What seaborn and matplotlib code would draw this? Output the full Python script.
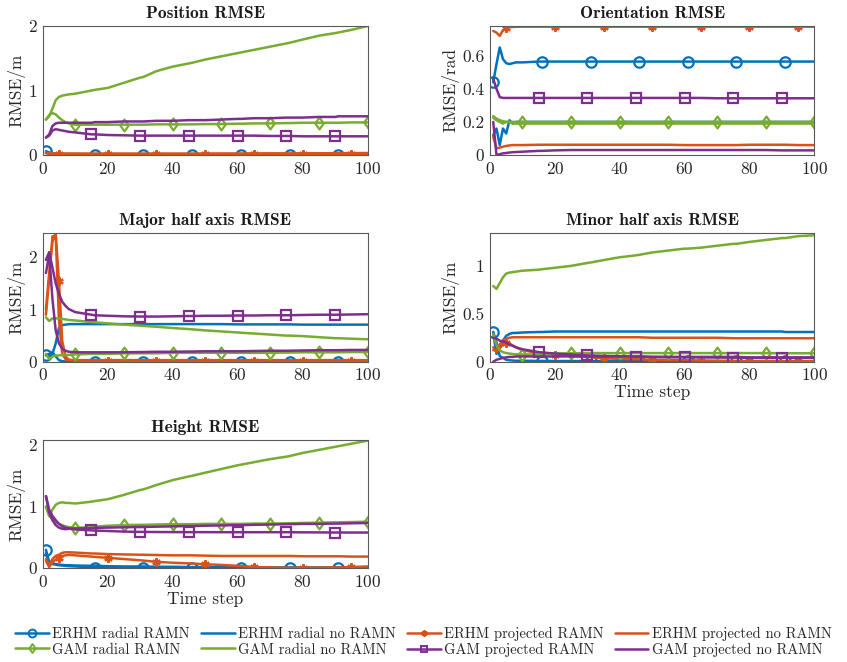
import numpy as np
import matplotlib
matplotlib.use("Agg")
import matplotlib.pyplot as plt
from matplotlib.lines import Line2D
from matplotlib.path import Path
from matplotlib.ticker import FormatStrFormatter
import seaborn as sns

sns.set_theme(style="white")
plt.rcParams['font.family'] = ['cmr10', 'DejaVu Serif']
plt.rcParams['mathtext.fontset'] = 'cm'
plt.rcParams['axes.unicode_minus'] = False
plt.rcParams['axes.formatter.use_mathtext'] = True

# ---------------- data ----------------
steps = [1, 2, 3, 4, 5, 6, 7, 8, 10, 15, 16, 20, 25, 30, 31, 35, 40, 45, 46, 50,
         55, 60, 61, 65, 70, 75, 76, 80, 85, 90, 91, 95, 100]

series_names = ["ERHM radial RAMN", "ERHM radial no RAMN", "ERHM projected RAMN",
                "ERHM projected no RAMN", "GAM radial RAMN", "GAM radial no RAMN",
                "GAM projected RAMN", "GAM projected no RAMN"]

panel_titles = ["Position RMSE", "Orientation RMSE", "Major half axis RMSE",
                "Minor half axis RMSE", "Height RMSE"]
panel_ylabels = ["RMSE/m", "RMSE/rad", "RMSE/m", "RMSE/m", "RMSE/m"]

# Position RMSE
pos_erhm_rad_ramn = [0.06, 0.04, 0.03, 0.02, 0.015, 0.01, 0.01, 0.008, 0.006, 0.005, 0.005, 0.004, 0.004, 0.004, 0.004, 0.004, 0.004, 0.004, 0.004, 0.004, 0.005, 0.005, 0.005, 0.005, 0.005, 0.005, 0.005, 0.005, 0.005, 0.005, 0.005, 0.005, 0.005]
pos_erhm_rad_no = [0.03, 0.02, 0.015, 0.012, 0.01, 0.01, 0.01, 0.01, 0.01, 0.01, 0.01, 0.01, 0.01, 0.01, 0.01, 0.01, 0.01, 0.01, 0.01, 0.01, 0.01, 0.01, 0.01, 0.01, 0.01, 0.01, 0.01, 0.01, 0.01, 0.01, 0.01, 0.01, 0.01]
pos_erhm_proj_ramn = [0.04, 0.03, 0.025, 0.02, 0.02, 0.02, 0.02, 0.02, 0.02, 0.018, 0.018, 0.018, 0.018, 0.018, 0.018, 0.018, 0.018, 0.018, 0.018, 0.018, 0.018, 0.018, 0.018, 0.018, 0.018, 0.018, 0.018, 0.018, 0.018, 0.018, 0.018, 0.018, 0.018]
pos_erhm_proj_no = [0.03, 0.025, 0.02, 0.02, 0.02, 0.02, 0.02, 0.02, 0.02, 0.02, 0.02, 0.02, 0.02, 0.02, 0.02, 0.02, 0.02, 0.02, 0.02, 0.02, 0.022, 0.022, 0.022, 0.024, 0.025, 0.025, 0.025, 0.026, 0.027, 0.028, 0.028, 0.029, 0.03]
pos_gam_rad_ramn = [0.55, 0.62, 0.65, 0.63, 0.58, 0.54, 0.51, 0.49, 0.47, 0.47, 0.47, 0.47, 0.47, 0.47, 0.47, 0.475, 0.475, 0.475, 0.475, 0.48, 0.48, 0.485, 0.485, 0.49, 0.49, 0.495, 0.495, 0.5, 0.5, 0.5, 0.5, 0.505, 0.505]
pos_gam_rad_no = [0.55, 0.6, 0.72, 0.85, 0.9, 0.92, 0.93, 0.94, 0.95, 1.0, 1.01, 1.04, 1.12, 1.2, 1.21, 1.3, 1.37, 1.42, 1.43, 1.48, 1.53, 1.58, 1.59, 1.63, 1.68, 1.73, 1.74, 1.79, 1.85, 1.89, 1.9, 1.94, 2.0]
pos_gam_proj_ramn = [0.27, 0.3, 0.38, 0.4, 0.39, 0.38, 0.37, 0.36, 0.35, 0.32, 0.32, 0.31, 0.305, 0.3, 0.3, 0.3, 0.3, 0.3, 0.3, 0.3, 0.3, 0.3, 0.3, 0.3, 0.295, 0.295, 0.295, 0.29, 0.29, 0.29, 0.29, 0.29, 0.29]
pos_gam_proj_no = [0.27, 0.32, 0.45, 0.49, 0.5, 0.5, 0.5, 0.5, 0.5, 0.5, 0.51, 0.51, 0.52, 0.52, 0.52, 0.53, 0.53, 0.54, 0.54, 0.54, 0.55, 0.56, 0.56, 0.57, 0.57, 0.58, 0.58, 0.58, 0.59, 0.59, 0.6, 0.6, 0.6]

# Orientation RMSE
ori_erhm_rad_ramn = [0.44, 0.55, 0.65, 0.58, 0.555, 0.55, 0.555, 0.56, 0.56, 0.565, 0.565, 0.565, 0.565, 0.565, 0.565, 0.565, 0.565, 0.565, 0.565, 0.565, 0.565, 0.565, 0.565, 0.565, 0.565, 0.565, 0.565, 0.565, 0.565, 0.565, 0.565, 0.565, 0.565]
ori_erhm_rad_no = [0.12, 0.16, 0.06, 0.16, 0.13, 0.21, 0.19, 0.2, 0.2, 0.2, 0.2, 0.2, 0.2, 0.2, 0.2, 0.2, 0.2, 0.2, 0.2, 0.2, 0.2, 0.2, 0.2, 0.2, 0.2, 0.2, 0.2, 0.2, 0.2, 0.2, 0.2, 0.2, 0.2]
ori_erhm_proj_ramn = [0.75, 0.74, 0.72, 0.755, 0.768, 0.772, 0.774, 0.775, 0.776, 0.776, 0.776, 0.776, 0.776, 0.776, 0.776, 0.776, 0.776, 0.776, 0.776, 0.776, 0.776, 0.776, 0.776, 0.776, 0.776, 0.776, 0.776, 0.776, 0.776, 0.776, 0.776, 0.776, 0.776]
ori_erhm_proj_no = [0.11, 0.04, 0.045, 0.05, 0.055, 0.058, 0.06, 0.06, 0.06, 0.062, 0.062, 0.062, 0.062, 0.062, 0.062, 0.062, 0.062, 0.062, 0.062, 0.062, 0.062, 0.06, 0.06, 0.06, 0.06, 0.06, 0.06, 0.062, 0.062, 0.062, 0.062, 0.06, 0.06]
ori_gam_rad_ramn = [0.235, 0.22, 0.21, 0.205, 0.2, 0.2, 0.2, 0.2, 0.2, 0.2, 0.2, 0.2, 0.2, 0.2, 0.2, 0.2, 0.2, 0.2, 0.2, 0.2, 0.2, 0.2, 0.2, 0.2, 0.2, 0.2, 0.2, 0.2, 0.2, 0.2, 0.2, 0.2, 0.2]
ori_gam_rad_no = [0.225, 0.21, 0.2, 0.19, 0.2, 0.2, 0.19, 0.19, 0.19, 0.19, 0.19, 0.19, 0.19, 0.19, 0.19, 0.19, 0.19, 0.19, 0.19, 0.19, 0.19, 0.19, 0.19, 0.19, 0.19, 0.19, 0.19, 0.19, 0.19, 0.19, 0.19, 0.19, 0.19]
ori_gam_proj_ramn = [0.46, 0.4, 0.35, 0.345, 0.345, 0.345, 0.345, 0.345, 0.345, 0.345, 0.345, 0.345, 0.345, 0.345, 0.345, 0.345, 0.345, 0.345, 0.345, 0.345, 0.345, 0.345, 0.345, 0.345, 0.343, 0.343, 0.343, 0.343, 0.343, 0.343, 0.343, 0.343, 0.343]
ori_gam_proj_no = [0.2, 0.0, 0.005, 0.01, 0.012, 0.015, 0.017, 0.018, 0.02, 0.025, 0.025, 0.028, 0.03, 0.03, 0.03, 0.03, 0.03, 0.03, 0.03, 0.03, 0.03, 0.03, 0.03, 0.03, 0.03, 0.03, 0.03, 0.03, 0.03, 0.028, 0.028, 0.028, 0.028]

# Major half axis RMSE
maj_erhm_rad_ramn = [0.13, 0.15, 0.18, 0.1, 0.03, 0.01, 0.005, 0.005, 0.003, 0.002, 0.002, 0.002, 0.002, 0.002, 0.002, 0.002, 0.002, 0.002, 0.002, 0.002, 0.002, 0.002, 0.002, 0.002, 0.002, 0.002, 0.002, 0.002, 0.002, 0.002, 0.002, 0.002, 0.002]
maj_erhm_rad_no = [0.12, 0.1, 0.15, 0.35, 0.65, 0.7, 0.71, 0.72, 0.72, 0.72, 0.72, 0.72, 0.72, 0.72, 0.72, 0.72, 0.72, 0.72, 0.72, 0.72, 0.72, 0.715, 0.715, 0.715, 0.715, 0.715, 0.715, 0.71, 0.71, 0.71, 0.71, 0.71, 0.71]
maj_erhm_proj_ramn = [1.0, 1.7, 2.3, 2.45, 1.55, 0.4, 0.1, 0.04, 0.02, 0.01, 0.01, 0.01, 0.01, 0.01, 0.01, 0.01, 0.01, 0.01, 0.01, 0.01, 0.01, 0.01, 0.01, 0.01, 0.01, 0.01, 0.01, 0.01, 0.01, 0.01, 0.01, 0.01, 0.01]
maj_erhm_proj_no = [0.9, 1.6, 2.4, 2.42, 0.8, 0.15, 0.05, 0.03, 0.03, 0.03, 0.03, 0.03, 0.03, 0.03, 0.03, 0.03, 0.03, 0.03, 0.03, 0.03, 0.03, 0.03, 0.03, 0.03, 0.03, 0.03, 0.03, 0.03, 0.03, 0.03, 0.03, 0.03, 0.03]
maj_gam_rad_ramn = [0.15, 0.05, 0.1, 0.12, 0.12, 0.13, 0.13, 0.13, 0.14, 0.15, 0.15, 0.15, 0.16, 0.16, 0.16, 0.16, 0.17, 0.17, 0.17, 0.17, 0.17, 0.17, 0.17, 0.17, 0.17, 0.175, 0.175, 0.18, 0.18, 0.18, 0.18, 0.185, 0.185]
maj_gam_rad_no = [0.85, 0.78, 0.83, 0.83, 0.83, 0.82, 0.81, 0.8, 0.79, 0.76, 0.755, 0.735, 0.71, 0.69, 0.685, 0.67, 0.645, 0.625, 0.62, 0.6, 0.58, 0.56, 0.555, 0.54, 0.52, 0.5, 0.5, 0.49, 0.47, 0.45, 0.45, 0.44, 0.43]
maj_gam_proj_ramn = [1.95, 2.1, 1.8, 1.5, 1.3, 1.15, 1.07, 1.01, 0.95, 0.9, 0.89, 0.88, 0.87, 0.865, 0.865, 0.865, 0.87, 0.875, 0.875, 0.88, 0.88, 0.885, 0.885, 0.885, 0.89, 0.89, 0.89, 0.895, 0.9, 0.9, 0.9, 0.905, 0.91]
maj_gam_proj_no = [1.7, 2.05, 1.2, 0.6, 0.35, 0.25, 0.21, 0.19, 0.18, 0.18, 0.18, 0.18, 0.18, 0.185, 0.185, 0.19, 0.19, 0.195, 0.195, 0.2, 0.2, 0.2, 0.2, 0.205, 0.21, 0.21, 0.21, 0.215, 0.22, 0.22, 0.22, 0.225, 0.225]

# Minor half axis RMSE
min_erhm_rad_ramn = [0.31, 0.2, 0.06, 0.04, 0.02, 0.015, 0.012, 0.01, 0.01, 0.008, 0.008, 0.007, 0.007, 0.006, 0.006, 0.006, 0.006, 0.006, 0.006, 0.006, 0.006, 0.006, 0.006, 0.006, 0.006, 0.006, 0.006, 0.006, 0.006, 0.006, 0.006, 0.006, 0.006]
min_erhm_rad_no = [0.3, 0.08, 0.15, 0.22, 0.27, 0.29, 0.3, 0.3, 0.305, 0.31, 0.31, 0.315, 0.315, 0.315, 0.315, 0.315, 0.315, 0.315, 0.315, 0.315, 0.315, 0.315, 0.315, 0.315, 0.315, 0.315, 0.315, 0.315, 0.315, 0.315, 0.31, 0.31, 0.31]
min_erhm_proj_ramn = [0.15, 0.1, 0.14, 0.18, 0.2, 0.19, 0.17, 0.15, 0.12, 0.09, 0.088, 0.075, 0.06, 0.05, 0.048, 0.035, 0.03, 0.025, 0.025, 0.02, 0.018, 0.015, 0.015, 0.012, 0.01, 0.008, 0.008, 0.006, 0.006, 0.005, 0.005, 0.005, 0.005]
min_erhm_proj_no = [0.12, 0.12, 0.18, 0.22, 0.24, 0.25, 0.255, 0.255, 0.255, 0.255, 0.255, 0.255, 0.255, 0.255, 0.255, 0.255, 0.255, 0.255, 0.255, 0.25, 0.25, 0.25, 0.25, 0.25, 0.25, 0.245, 0.245, 0.245, 0.245, 0.245, 0.245, 0.245, 0.245]
min_gam_rad_ramn = [0.29, 0.17, 0.12, 0.1, 0.09, 0.085, 0.08, 0.078, 0.075, 0.078, 0.08, 0.085, 0.088, 0.09, 0.09, 0.09, 0.09, 0.09, 0.09, 0.09, 0.09, 0.09, 0.09, 0.09, 0.09, 0.09, 0.09, 0.09, 0.09, 0.088, 0.088, 0.088, 0.088]
min_gam_rad_no = [0.79, 0.76, 0.82, 0.88, 0.92, 0.93, 0.935, 0.94, 0.95, 0.96, 0.965, 0.98, 1.0, 1.03, 1.035, 1.06, 1.09, 1.11, 1.115, 1.14, 1.16, 1.18, 1.18, 1.19, 1.21, 1.23, 1.23, 1.25, 1.27, 1.29, 1.29, 1.31, 1.32]
min_gam_proj_ramn = [0.25, 0.24, 0.22, 0.21, 0.2, 0.18, 0.165, 0.15, 0.13, 0.1, 0.097, 0.085, 0.075, 0.066, 0.065, 0.06, 0.057, 0.053, 0.052, 0.05, 0.048, 0.046, 0.046, 0.045, 0.044, 0.042, 0.042, 0.041, 0.04, 0.04, 0.04, 0.04, 0.04]
min_gam_proj_no = [0.0, 0.02, 0.03, 0.04, 0.045, 0.05, 0.05, 0.055, 0.055, 0.055, 0.055, 0.055, 0.055, 0.055, 0.055, 0.055, 0.055, 0.055, 0.055, 0.05, 0.05, 0.05, 0.05, 0.05, 0.05, 0.05, 0.05, 0.045, 0.045, 0.045, 0.045, 0.045, 0.045]

# Height RMSE
hei_erhm_rad_ramn = [0.3, 0.1, 0.07, 0.06, 0.05, 0.045, 0.04, 0.035, 0.03, 0.015, 0.012, 0.01, 0.01, 0.01, 0.01, 0.01, 0.01, 0.01, 0.01, 0.01, 0.01, 0.01, 0.01, 0.01, 0.01, 0.01, 0.01, 0.01, 0.01, 0.01, 0.01, 0.01, 0.01]
hei_erhm_rad_no = [0.25, 0.08, 0.08, 0.07, 0.06, 0.055, 0.05, 0.05, 0.045, 0.04, 0.04, 0.035, 0.03, 0.03, 0.03, 0.025, 0.025, 0.02, 0.02, 0.02, 0.02, 0.015, 0.015, 0.015, 0.015, 0.012, 0.012, 0.012, 0.01, 0.01, 0.01, 0.01, 0.01]
hei_erhm_proj_ramn = [0.12, 0.02, 0.1, 0.14, 0.17, 0.2, 0.21, 0.22, 0.21, 0.19, 0.185, 0.17, 0.15, 0.13, 0.125, 0.105, 0.09, 0.08, 0.078, 0.065, 0.055, 0.04, 0.038, 0.02, 0.015, 0.01, 0.01, 0.01, 0.012, 0.015, 0.015, 0.02, 0.03]
hei_erhm_proj_no = [0.15, 0.05, 0.15, 0.2, 0.22, 0.25, 0.26, 0.26, 0.255, 0.24, 0.24, 0.23, 0.225, 0.22, 0.22, 0.215, 0.21, 0.21, 0.21, 0.205, 0.2, 0.2, 0.2, 0.2, 0.2, 0.2, 0.2, 0.195, 0.195, 0.195, 0.195, 0.19, 0.19]
hei_gam_rad_ramn = [1.0, 0.85, 0.8, 0.75, 0.72, 0.7, 0.68, 0.67, 0.655, 0.67, 0.675, 0.69, 0.7, 0.705, 0.705, 0.71, 0.715, 0.715, 0.715, 0.72, 0.72, 0.72, 0.72, 0.725, 0.725, 0.73, 0.73, 0.735, 0.74, 0.745, 0.745, 0.75, 0.755]
hei_gam_rad_no = [1.0, 0.85, 0.95, 1.03, 1.06, 1.07, 1.06, 1.06, 1.05, 1.08, 1.09, 1.12, 1.19, 1.27, 1.28, 1.35, 1.43, 1.49, 1.5, 1.55, 1.61, 1.67, 1.68, 1.72, 1.77, 1.81, 1.82, 1.87, 1.92, 1.97, 1.98, 2.02, 2.07]
hei_gam_proj_ramn = [1.17, 0.95, 0.85, 0.78, 0.72, 0.68, 0.66, 0.645, 0.63, 0.615, 0.612, 0.605, 0.595, 0.59, 0.59, 0.588, 0.587, 0.586, 0.586, 0.586, 0.585, 0.585, 0.585, 0.585, 0.585, 0.585, 0.585, 0.583, 0.582, 0.58, 0.58, 0.58, 0.58]
hei_gam_proj_no = [1.17, 0.9, 0.78, 0.7, 0.66, 0.64, 0.635, 0.64, 0.645, 0.65, 0.655, 0.66, 0.665, 0.67, 0.67, 0.675, 0.68, 0.685, 0.685, 0.69, 0.695, 0.7, 0.7, 0.705, 0.71, 0.715, 0.715, 0.72, 0.72, 0.725, 0.725, 0.73, 0.735]

panel_data = [
    [pos_erhm_rad_ramn, pos_erhm_rad_no, pos_erhm_proj_ramn, pos_erhm_proj_no,
     pos_gam_rad_ramn, pos_gam_rad_no, pos_gam_proj_ramn, pos_gam_proj_no],
    [ori_erhm_rad_ramn, ori_erhm_rad_no, ori_erhm_proj_ramn, ori_erhm_proj_no,
     ori_gam_rad_ramn, ori_gam_rad_no, ori_gam_proj_ramn, ori_gam_proj_no],
    [maj_erhm_rad_ramn, maj_erhm_rad_no, maj_erhm_proj_ramn, maj_erhm_proj_no,
     maj_gam_rad_ramn, maj_gam_rad_no, maj_gam_proj_ramn, maj_gam_proj_no],
    [min_erhm_rad_ramn, min_erhm_rad_no, min_erhm_proj_ramn, min_erhm_proj_no,
     min_gam_rad_ramn, min_gam_rad_no, min_gam_proj_ramn, min_gam_proj_no],
    [hei_erhm_rad_ramn, hei_erhm_rad_no, hei_erhm_proj_ramn, hei_erhm_proj_no,
     hei_gam_rad_ramn, hei_gam_rad_no, hei_gam_proj_ramn, hei_gam_proj_no],
]

panel_ylims = [2.0, 0.78, 2.46, 1.34, 2.08]
panel_yticks = [[0, 1, 2], [0, 0.2, 0.4, 0.6], [0, 1, 2], [0, 0.5, 1], [0, 1, 2]]

# ---------------- styles ----------------
C_BLUE, C_ORANGE, C_GREEN, C_PURPLE = "#0072BD", "#D95319", "#77AC30", "#7E2F8E"
DIAMOND = Path([(0, 1), (0.72, 0), (0, -1), (-0.72, 0), (0, 1)],
               [Path.MOVETO, Path.LINETO, Path.LINETO, Path.LINETO, Path.CLOSEPOLY])
styles = [
    dict(color=C_BLUE, marker="o", ms=7.5, first=1),
    dict(color=C_BLUE, marker=None),
    dict(color=C_ORANGE, marker=(6, 2, 0), ms=6, first=5),
    dict(color=C_ORANGE, marker=None),
    dict(color=C_GREEN, marker=DIAMOND, ms=8.5, first=10),
    dict(color=C_GREEN, marker=None),
    dict(color=C_PURPLE, marker="s", ms=6.5, first=15),
    dict(color=C_PURPLE, marker=None),
]

W, H = 847, 662
fig = plt.figure(figsize=(W / 100, H / 100), dpi=100)

def ax_rect(l, r, t, b):
    return [l / W, 1 - b / H, (r - l) / W, (b - t) / H]

rects = [
    ax_rect(42.7, 367.7, 26, 155),
    ax_rect(490, 814.3, 26, 155),
    ax_rect(42.7, 367.7, 233.3, 361.7),
    ax_rect(490, 814.3, 233.3, 361.7),
    ax_rect(42.7, 367.7, 440, 568.3),
]

EDGE = "#262626"
LW = 1.8
for k in range(5):
    ax = fig.add_axes(rects[k])
    for s, (vals, st) in enumerate(zip(panel_data[k], styles)):
        kw = dict(color=st["color"], lw=LW)
        if st["marker"] is not None:
            idx = [i for i, t in enumerate(steps) if t >= st["first"] and (t - st["first"]) % 15 == 0]
            kw.update(marker=st["marker"], markersize=st["ms"], markevery=idx,
                      markerfacecolor="none", markeredgecolor=st["color"],
                      markeredgewidth=1.6)
        sns.lineplot(x=steps, y=vals, ax=ax, legend=False, **kw)
    ax.set_xlim(0, 100)
    ax.set_ylim(0, panel_ylims[k])
    ax.set_xticks([0, 20, 40, 60, 80, 100])
    ax.set_yticks(panel_yticks[k])
    ax.yaxis.set_major_formatter(FormatStrFormatter('%g'))
    ax.tick_params(direction="in", length=3, width=0.6, colors=EDGE, labelsize=12.5, pad=4)
    for sp in ax.spines.values():
        sp.set_color("#5a5a5a")
        sp.set_linewidth(0.8)
        sp.set_visible(True)
    ax.set_title(panel_titles[k], fontsize=12.5, fontfamily="cmb10", color="#1a1a1a", pad=6)
    ax.set_ylabel(panel_ylabels[k], fontsize=12.5, color=EDGE, labelpad=2)
    if k in (3, 4):
        ax.set_xlabel("Time step", fontsize=12.5, color=EDGE, labelpad=1)
    else:
        ax.set_xlabel("")

handles = []
for st, name in zip(styles, series_names):
    if st["marker"] is None:
        h = Line2D([], [], color=st["color"], lw=LW)
    else:
        h = Line2D([], [], color=st["color"], lw=LW, marker=st["marker"],
                   markersize=st["ms"] * 0.75, markerfacecolor="none",
                   markeredgecolor=st["color"], markeredgewidth=1.4)
    handles.append(h)

# legend fills column-wise; reorder so rows read ERHM... / GAM...
order = [0, 4, 1, 5, 2, 6, 3, 7]
fig.legend([handles[i] for i in order], [series_names[i] for i in order],
           loc="center", bbox_to_anchor=(0.5, 1 - 642 / H),
           ncol=4, frameon=False, fontsize=10.5, handlelength=2.3, handletextpad=0.25,
           columnspacing=0.75, labelspacing=0.12, numpoints=1)

fig.savefig("out.png", dpi=100)
